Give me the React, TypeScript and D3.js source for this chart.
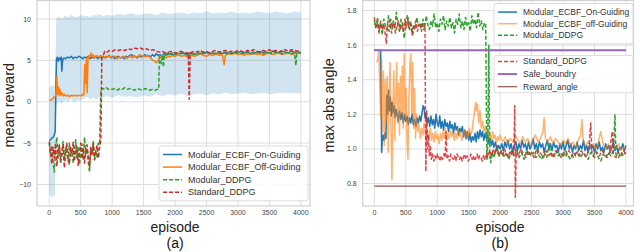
import React from "react";
import * as d3 from "d3";

type Pt = [number, number];

const FONT = "'Liberation Sans', Arial, 'DejaVu Sans', sans-serif";
const C = {
  blue: "#1f77b4",
  orange: "#ff7f0e",
  green: "#2ca02c",
  red: "#d62728",
  purple: "#9467bd",
  brown: "#8c564b",
};

const episodeTicks = [0, 500, 1000, 1500, 2000, 2500, 3000, 3500, 4000];
const rewardTicks = [-10, -5, 0, 5, 10];
const angleTicks = [0.8, 1.0, 1.2, 1.4, 1.6, 1.8];

// ---- (a) mean reward ----
const bandEpisodes = [0, 30, 60, 90, 100, 110, 150, 200, 250, 300, 350, 400, 450, 500, 550, 600, 650, 700, 750, 800, 850, 900, 1000, 1100, 1200, 1300, 1400, 1500, 1600, 1700, 1800, 1900, 2000, 2100, 2200, 2300, 2400, 2500, 2600, 2700, 2800, 2900, 3000, 3100, 3200, 3300, 3400, 3500, 3600, 3700, 3800, 3900, 4000];
const bandUpper = [1.6, 2.0, 1.8, 2.2, 5.0, 10.1, 10.3, 10.0, 10.4, 10.2, 10.5, 10.3, 10.2, 10.5, 10.3, 10.4, 10.2, 10.5, 10.4, 10.6, 10.3, 10.5, 10.4, 10.6, 10.5, 10.7, 10.5, 10.6, 10.7, 10.5, 10.8, 10.6, 10.7, 10.8, 10.6, 10.8, 10.7, 10.9, 10.7, 10.8, 10.7, 10.9, 10.7, 10.8, 10.7, 10.9, 10.8, 10.7, 10.9, 10.8, 10.7, 10.9, 10.8];
const bandLower = [-11.0, -11.6, -11.3, -11.5, -6.0, -0.4, 0.1, -0.2, 0.2, 0.0, 0.3, -0.1, 0.2, 0.1, 0.4, 0.6, 0.3, 0.5, 0.2, 0.6, 0.4, 0.7, 0.5, 0.8, 0.6, 0.7, 0.5, 0.8, 0.6, 0.9, 0.7, 0.9, 0.8, 1.0, 0.7, 0.9, 1.0, 0.8, 1.0, 0.9, 1.1, 0.9, 1.0, 1.1, 0.9, 1.0, 1.1, 0.9, 1.0, 1.1, 1.0, 1.1, 1.0];

const onGuidingReward: Pt[] = [
  [0, -4.7], [20, -4.6], [40, -4.4], [60, -4.3], [80, -4.0], [95, -3.5], [105, 1.5], [115, 5.2], [130, 5.4], [145, 4.9],
  [160, 5.3], [175, 5.1], [190, 5.4], [200, 3.7], [212, 5.0], [230, 5.3], [260, 5.2], [290, 5.4], [320, 5.3], [350, 5.5],
  [380, 5.2], [410, 5.4], [440, 5.3], [470, 5.5], [500, 5.4], [530, 5.2], [560, 5.4], [590, 5.3], [620, 5.5], [650, 5.2],
  [680, 5.4], [710, 5.3], [740, 5.5], [770, 5.2], [800, 5.4], [830, 5.3], [860, 5.5], [890, 5.3], [920, 5.4], [950, 5.6],
  [980, 5.3], [1010, 5.5], [1040, 5.2], [1070, 5.4], [1100, 5.5], [1130, 5.3], [1160, 5.4], [1190, 5.2], [1220, 5.5], [1250, 5.4],
  [1280, 5.6], [1310, 5.7], [1340, 5.4], [1370, 5.5], [1400, 5.3], [1430, 5.6], [1460, 5.4], [1490, 5.5], [1520, 5.7], [1550, 5.5],
  [1580, 5.6], [1610, 5.4], [1640, 5.7], [1670, 5.5], [1700, 5.8], [1730, 5.6], [1760, 5.7], [1790, 5.5], [1820, 5.8], [1850, 5.6],
  [1880, 5.9], [1910, 5.7], [1940, 5.8], [1970, 5.6], [2000, 5.8], [2050, 5.7], [2100, 5.9], [2150, 5.8], [2200, 5.6], [2250, 5.9],
  [2300, 5.8], [2350, 5.7], [2400, 5.9], [2450, 5.8], [2500, 6.0], [2550, 5.8], [2600, 5.9], [2650, 5.7], [2700, 5.9], [2750, 5.8],
  [2800, 6.0], [2850, 5.9], [2900, 5.8], [2950, 6.0], [3000, 5.9], [3050, 6.1], [3100, 5.9], [3150, 6.0], [3200, 5.8], [3250, 6.0],
  [3300, 5.9], [3350, 6.1], [3400, 5.9], [3450, 6.0], [3500, 5.9], [3550, 6.1], [3600, 6.0], [3650, 5.9], [3700, 6.1], [3750, 6.0],
  [3800, 5.9], [3850, 6.1], [3900, 6.0], [3950, 5.9], [4000, 6.0],
];

const offGuidingReward: Pt[] = [
  [0, 0.2], [20, 0.2], [40, 0.3], [60, 0.4], [80, 0.6], [100, 0.7], [110, 1.4], [122, 3.0], [132, 0.9], [145, 1.8],
  [158, 0.7], [170, 1.5], [185, 0.8], [200, 1.1], [220, 0.7], [240, 0.9], [260, 0.7], [290, 0.8], [320, 0.6], [350, 0.8],
  [380, 0.7], [410, 0.8], [440, 0.7], [470, 0.8], [500, 0.7], [530, 0.9], [550, 0.8], [565, 4.5], [578, 2.2], [590, 5.2],
  [603, 1.1], [615, 5.0], [630, 5.6], [650, 5.4], [665, 5.9], [680, 5.5], [700, 5.7], [720, 5.3], [750, 5.6], [780, 5.4],
  [810, 5.6], [840, 5.5], [870, 5.3], [900, 5.5], [930, 5.4], [960, 5.6], [990, 5.3], [1020, 5.4], [1050, 5.5], [1080, 5.2],
  [1110, 5.4], [1140, 5.3], [1170, 5.5], [1200, 5.4], [1230, 5.2], [1260, 5.4], [1290, 5.5], [1320, 5.3], [1350, 5.6], [1380, 5.4],
  [1410, 5.5], [1440, 5.7], [1470, 5.5], [1500, 5.6], [1530, 5.4], [1560, 5.6], [1590, 5.5], [1620, 5.2], [1650, 5.0], [1680, 4.9],
  [1700, 4.7], [1720, 4.9], [1740, 5.2], [1770, 5.4], [1800, 5.6], [1830, 5.5], [1860, 5.3], [1890, 5.5], [1920, 5.4], [1950, 5.6],
  [2000, 5.5], [2050, 5.7], [2100, 5.5], [2150, 5.6], [2200, 5.4], [2250, 5.7], [2300, 5.5], [2350, 5.6], [2400, 5.8], [2450, 5.6],
  [2500, 5.5], [2550, 5.7], [2600, 5.6], [2650, 5.8], [2700, 5.6], [2750, 5.7], [2780, 4.5], [2800, 5.6], [2850, 5.8], [2900, 5.7],
  [2950, 5.9], [3000, 5.7], [3050, 5.8], [3100, 5.6], [3150, 5.8], [3200, 5.7], [3250, 5.9], [3300, 5.7], [3350, 5.8], [3400, 5.6],
  [3450, 5.8], [3500, 5.9], [3550, 5.7], [3600, 5.8], [3650, 5.9], [3700, 5.7], [3750, 5.8], [3800, 5.9], [3850, 5.7], [3900, 5.8],
  [3950, 5.9], [4000, 5.8],
];

const modularReward: Pt[] = [
  [0, -5.0], [20, -6.5], [40, -5.3], [60, -7.2], [80, -8.5], [100, -5.5], [120, -4.3], [140, -6.8], [160, -5.2], [180, -7.5],
  [200, -6.0], [220, -4.8], [240, -7.0], [260, -5.5], [280, -6.3], [300, -7.2], [320, -5.0], [340, -6.6], [360, -5.8], [380, -7.4],
  [400, -6.1], [420, -4.6], [440, -6.9], [460, -5.4], [480, -7.6], [500, -6.2], [520, -5.1], [540, -7.0], [560, -4.3], [580, -6.5],
  [600, -5.7], [620, -7.3], [640, -8.5], [660, -5.6], [680, -6.4], [700, -4.8], [720, -7.0], [740, -5.9], [760, -6.8], [780, -5.0],
  [800, -5.2], [820, 1.5], [850, 1.6], [880, 1.5], [910, 1.7], [940, 1.5], [970, 1.6], [1000, 1.5], [1040, 1.6], [1080, 1.4],
  [1120, 1.6], [1160, 1.5], [1200, 1.7], [1240, 1.5], [1280, 1.6], [1320, 1.5], [1360, 1.4], [1400, 1.6], [1440, 1.5], [1480, 1.4],
  [1520, 1.6], [1560, 1.5], [1600, 1.4], [1640, 1.5], [1680, 1.4], [1720, 1.5], [1740, 1.5], [1750, 5.5], [1765, 5.0], [1780, 4.6],
  [1800, 5.6], [1815, 4.2], [1830, 5.7], [1860, 5.8], [1900, 5.6], [1950, 5.9], [2000, 5.7], [2050, 5.9], [2100, 5.8], [2150, 6.0],
  [2200, 5.8], [2250, 5.9], [2300, 5.7], [2350, 5.9], [2400, 5.8], [2450, 6.0], [2500, 5.8], [2550, 5.9], [2600, 5.7], [2650, 5.9],
  [2700, 6.0], [2750, 5.8], [2800, 5.9], [2850, 5.7], [2900, 5.9], [2950, 5.8], [3000, 6.0], [3050, 5.8], [3100, 5.9], [3150, 6.1],
  [3200, 5.9], [3250, 5.8], [3300, 6.0], [3350, 5.9], [3400, 5.8], [3450, 6.0], [3500, 5.9], [3550, 5.8], [3600, 6.0], [3650, 5.9],
  [3700, 5.8], [3750, 6.0], [3800, 5.9], [3850, 5.8], [3900, 5.9], [3920, 4.4], [3935, 5.8], [3960, 6.0], [4000, 5.9],
];

const standardReward: Pt[] = [
  [0, -4.8], [20, -6.0], [40, -7.5], [60, -5.5], [80, -6.8], [100, -5.0], [120, -7.8], [140, -6.0], [160, -5.3], [180, -7.0],
  [200, -6.5], [220, -5.2], [240, -8.0], [260, -6.2], [280, -5.0], [300, -6.8], [320, -7.6], [340, -5.5], [360, -6.3], [380, -4.9],
  [400, -7.2], [420, -6.0], [440, -5.4], [460, -7.7], [480, -6.1], [500, -5.0], [520, -6.9], [540, -5.6], [560, -7.4], [580, -6.0],
  [600, -5.2], [620, -6.6], [640, -7.9], [660, -5.5], [680, -6.4], [700, -5.0], [720, -7.0], [740, -6.1], [760, -5.3], [780, -6.8],
  [800, -5.6], [820, -4.5], [835, 5.3], [860, 5.6], [880, 6.1], [920, 6.0], [960, 6.2], [1000, 6.1], [1050, 6.3], [1100, 6.2],
  [1150, 6.3], [1200, 6.2], [1250, 6.4], [1300, 6.3], [1350, 6.5], [1400, 6.4], [1450, 6.5], [1500, 6.3], [1550, 6.4], [1600, 6.2],
  [1650, 6.3], [1700, 6.1], [1750, 6.0], [1800, 6.1], [1850, 5.9], [1900, 6.0], [1950, 6.1], [2000, 5.9], [2050, 6.0], [2100, 6.1],
  [2150, 5.9], [2210, 5.9], [2225, 0.3], [2240, 5.9], [2300, 6.1], [2350, 6.0], [2400, 6.2], [2450, 6.0], [2500, 6.1], [2550, 5.9],
  [2600, 6.1], [2650, 6.2], [2700, 6.0], [2750, 6.1], [2800, 6.2], [2850, 6.0], [2900, 6.1], [2950, 6.0], [3000, 6.2], [3050, 6.1],
  [3100, 6.0], [3150, 6.2], [3200, 6.1], [3250, 6.3], [3300, 6.1], [3350, 6.0], [3400, 6.2], [3450, 6.1], [3500, 6.3], [3550, 6.1],
  [3600, 6.2], [3650, 6.0], [3700, 6.2], [3750, 6.3], [3800, 6.1], [3850, 6.3], [3900, 6.2], [3950, 6.1], [4000, 6.2],
];

// ---- (b) max abs angle ----
const safeBoundary = 1.57;
const rewardAngle = 0.785;

const onGuidingAngle: Pt[] = [
  [0, 1.57], [50, 1.57], [100, 1.57], [108, 1.3], [116, 0.98], [125, 1.04], [140, 1.08], [155, 1.05], [170, 1.09], [185, 1.06],
  [198, 1.31], [212, 1.2], [226, 1.34], [240, 1.22], [255, 1.3], [270, 1.19], [285, 1.27], [300, 1.21], [315, 1.25], [330, 1.18],
  [345, 1.23], [360, 1.2], [380, 1.16], [400, 1.22], [420, 1.17], [440, 1.21], [460, 1.15], [480, 1.2], [500, 1.16], [520, 1.19],
  [540, 1.14], [560, 1.18], [580, 1.15], [600, 1.2], [620, 1.14], [640, 1.17], [660, 1.13], [680, 1.18], [700, 1.15], [720, 1.19],
  [740, 1.16], [760, 1.21], [775, 1.25], [790, 1.24], [805, 1.18], [820, 1.2], [840, 1.15], [860, 1.18], [880, 1.13], [900, 1.19],
  [920, 1.14], [940, 1.17], [960, 1.12], [980, 1.2], [1000, 1.15], [1020, 1.13], [1040, 1.19], [1060, 1.12], [1080, 1.16], [1100, 1.11],
  [1120, 1.17], [1140, 1.13], [1160, 1.15], [1180, 1.1], [1200, 1.16], [1220, 1.12], [1240, 1.14], [1260, 1.09], [1280, 1.15], [1300, 1.11],
  [1320, 1.13], [1340, 1.08], [1360, 1.12], [1380, 1.1], [1400, 1.13], [1420, 1.07], [1440, 1.11], [1460, 1.06], [1480, 1.1], [1500, 1.05],
  [1520, 1.09], [1540, 1.04], [1560, 1.07], [1580, 1.05], [1600, 1.09], [1620, 1.04], [1640, 1.1], [1660, 1.06], [1680, 1.11], [1700, 1.07],
  [1720, 1.1], [1740, 1.05], [1760, 1.09], [1780, 1.06], [1800, 1.08], [1820, 1.03], [1840, 1.06], [1860, 1.02], [1880, 1.05], [1900, 1.01],
  [1925, 1.04], [1950, 0.99], [1975, 1.02], [2000, 1.0], [2025, 1.03], [2050, 0.99], [2075, 1.04], [2100, 1.01], [2125, 1.05], [2150, 1.0],
  [2175, 1.03], [2200, 0.98], [2225, 1.02], [2250, 1.04], [2275, 0.99], [2300, 1.03], [2325, 1.0], [2350, 1.05], [2375, 1.01], [2400, 1.03],
  [2425, 0.99], [2450, 1.04], [2475, 1.0], [2500, 1.02], [2525, 1.06], [2550, 1.0], [2575, 1.03], [2600, 0.99], [2625, 1.04], [2650, 1.01],
  [2675, 1.03], [2700, 0.98], [2725, 1.02], [2750, 1.05], [2775, 1.0], [2800, 1.03], [2825, 0.99], [2850, 1.04], [2875, 1.01], [2900, 1.02],
  [2925, 0.98], [2950, 1.03], [2975, 1.0], [3000, 1.04], [3025, 0.99], [3050, 1.02], [3075, 1.05], [3100, 1.0], [3125, 1.03], [3150, 0.98],
  [3175, 1.02], [3200, 1.0], [3225, 1.04], [3250, 0.99], [3275, 1.02], [3300, 1.0], [3325, 1.05], [3350, 0.99], [3375, 1.02], [3400, 0.98],
  [3425, 1.03], [3450, 1.0], [3475, 1.02], [3500, 0.98], [3525, 1.03], [3550, 1.0], [3575, 1.04], [3600, 0.99], [3625, 1.01], [3650, 0.98],
  [3675, 1.03], [3700, 1.0], [3725, 1.02], [3750, 0.98], [3775, 1.01], [3800, 1.04], [3825, 0.99], [3850, 1.02], [3875, 0.98], [3900, 1.01],
  [3925, 1.0], [3950, 1.03], [3975, 0.99], [4000, 1.02],
];

const offGuidingAngle: Pt[] = [
  [40, 1.5], [55, 1.52], [70, 1.57], [85, 1.38], [100, 1.18], [115, 1.52], [130, 1.1], [145, 1.45], [160, 1.02], [175, 1.4],
  [190, 1.15], [205, 1.42], [220, 0.98], [235, 1.3], [250, 1.5], [265, 1.1], [280, 0.82], [295, 1.25], [310, 1.45], [325, 1.05],
  [340, 1.3], [355, 1.5], [370, 1.15], [385, 1.38], [400, 1.08], [415, 1.42], [430, 1.2], [445, 1.48], [460, 1.12], [475, 1.55],
  [490, 1.18], [505, 1.35], [520, 1.05], [535, 0.94], [550, 1.3], [565, 1.48], [580, 1.55], [595, 1.2], [610, 1.5], [625, 1.12],
  [640, 1.35], [655, 1.06], [670, 1.2], [690, 1.1], [710, 1.14], [730, 1.06], [750, 1.12], [770, 1.08], [790, 1.15], [810, 1.1],
  [830, 1.04], [850, 1.1], [870, 1.06], [890, 1.12], [910, 1.05], [930, 1.09], [950, 1.04], [970, 1.1], [990, 1.06], [1010, 1.08],
  [1030, 1.03], [1050, 1.09], [1070, 1.05], [1090, 1.1], [1110, 1.06], [1130, 1.12], [1150, 1.05], [1170, 1.09], [1190, 1.06], [1210, 1.11],
  [1230, 1.07], [1250, 1.1], [1270, 1.05], [1290, 1.09], [1310, 1.06], [1330, 1.12], [1350, 1.07], [1370, 1.1], [1390, 1.05], [1410, 1.08],
  [1430, 1.11], [1450, 1.06], [1470, 1.1], [1490, 1.07], [1510, 1.12], [1530, 1.08], [1550, 1.1], [1570, 1.15], [1590, 1.21], [1610, 1.27],
  [1625, 1.22], [1640, 1.26], [1660, 1.15], [1680, 1.22], [1700, 1.12], [1720, 1.16], [1740, 1.1], [1760, 1.13], [1780, 1.08], [1800, 1.11],
  [1820, 1.06], [1840, 1.09], [1860, 1.05], [1880, 1.1], [1900, 1.06], [1920, 1.08], [1940, 1.04], [1960, 1.07], [1980, 1.05], [2000, 1.08],
  [2040, 1.04], [2080, 1.07], [2120, 1.03], [2160, 1.06], [2200, 1.04], [2240, 1.08], [2280, 1.05], [2320, 1.03], [2360, 1.07], [2400, 1.04],
  [2440, 1.06], [2480, 1.02], [2520, 1.05], [2560, 1.08], [2600, 1.04], [2640, 1.06], [2680, 1.1], [2700, 1.18], [2720, 1.06], [2760, 1.04],
  [2800, 1.07], [2840, 1.03], [2880, 1.06], [2920, 1.04], [2960, 1.02], [3000, 1.05], [3040, 1.03], [3080, 1.06], [3120, 1.02], [3160, 1.04],
  [3200, 1.01], [3240, 1.05], [3280, 1.08], [3300, 1.17], [3320, 1.05], [3360, 1.02], [3400, 1.04], [3440, 1.01], [3480, 1.03], [3520, 1.0],
  [3560, 1.04], [3600, 1.1], [3640, 1.02], [3680, 1.0], [3720, 1.03], [3760, 0.99], [3800, 1.02], [3840, 1.0], [3880, 1.03], [3920, 0.99],
  [3960, 1.01], [4000, 1.0],
];

const modularAngle: Pt[] = [
  [0, 1.74], [25, 1.7], [50, 1.76], [75, 1.68], [100, 1.73], [125, 1.66], [150, 1.75], [175, 1.71], [200, 1.69], [225, 1.77],
  [250, 1.72], [275, 1.67], [300, 1.74], [325, 1.7], [350, 1.79], [375, 1.71], [400, 1.68], [425, 1.75], [450, 1.72], [475, 1.64],
  [500, 1.73], [525, 1.77], [550, 1.7], [575, 1.74], [600, 1.66], [625, 1.72], [650, 1.69], [675, 1.76], [700, 1.71], [725, 1.73],
  [750, 1.68], [775, 1.75], [800, 1.7], [825, 1.77], [850, 1.72], [875, 1.69], [900, 1.74], [925, 1.71], [950, 1.78], [975, 1.7],
  [1000, 1.73], [1025, 1.68], [1050, 1.75], [1075, 1.72], [1100, 1.77], [1125, 1.69], [1150, 1.74], [1175, 1.71], [1200, 1.76], [1225, 1.7],
  [1250, 1.73], [1275, 1.67], [1300, 1.75], [1325, 1.72], [1350, 1.78], [1375, 1.7], [1400, 1.74], [1425, 1.69], [1450, 1.76], [1475, 1.71],
  [1500, 1.73], [1525, 1.68], [1550, 1.77], [1575, 1.72], [1600, 1.75], [1625, 1.7], [1650, 1.79], [1675, 1.71], [1700, 1.74], [1725, 1.69],
  [1750, 1.73], [1770, 1.72], [1790, 0.94], [1805, 1.05], [1820, 1.6], [1835, 0.96], [1850, 0.92], [1875, 0.98], [1900, 0.95], [1940, 1.0],
  [1980, 0.96], [2020, 0.99], [2060, 0.95], [2100, 0.98], [2140, 0.94], [2180, 0.99], [2220, 0.96], [2260, 1.0], [2300, 0.95], [2340, 0.98],
  [2380, 0.94], [2420, 0.99], [2460, 0.96], [2500, 0.98], [2540, 0.95], [2580, 1.0], [2620, 0.96], [2660, 0.94], [2700, 0.98], [2740, 0.95],
  [2780, 1.03], [2800, 0.97], [2840, 0.95], [2880, 0.99], [2920, 0.96], [2960, 0.98], [3000, 0.95], [3040, 0.99], [3080, 0.96], [3120, 0.94],
  [3160, 0.98], [3200, 0.96], [3240, 0.99], [3280, 0.95], [3320, 0.98], [3360, 0.96], [3400, 0.94], [3440, 0.98], [3480, 0.96], [3520, 0.99],
  [3560, 0.95], [3600, 0.93], [3640, 0.97], [3680, 0.95], [3720, 0.98], [3760, 0.96], [3800, 0.99], [3825, 1.2], [3840, 0.97], [3880, 0.95],
  [3920, 0.98], [3960, 0.96], [4000, 0.98],
];

const standardAngle: Pt[] = [
  [0, 1.76], [25, 1.7], [50, 1.73], [75, 1.67], [100, 1.74], [125, 1.69], [150, 1.72], [175, 1.66], [190, 1.61], [210, 1.72],
  [235, 1.68], [260, 1.75], [285, 1.7], [310, 1.73], [335, 1.67], [360, 1.71], [385, 1.74], [410, 1.69], [435, 1.72], [460, 1.68],
  [485, 1.75], [510, 1.7], [535, 1.76], [560, 1.69], [585, 1.72], [610, 1.66], [635, 1.71], [660, 1.74], [685, 1.68], [710, 1.72],
  [735, 1.7], [760, 1.73], [785, 1.69], [805, 1.71], [818, 0.87], [832, 1.22], [845, 1.0], [860, 1.08], [875, 0.96], [890, 1.02],
  [905, 0.94], [925, 0.97], [945, 0.93], [965, 0.96], [985, 0.94], [1005, 0.97], [1025, 0.95], [1045, 0.93], [1065, 0.96], [1085, 0.94],
  [1105, 0.97], [1125, 0.95], [1140, 1.1], [1155, 0.94], [1175, 0.96], [1195, 0.93], [1215, 0.97], [1235, 0.95], [1255, 0.94], [1275, 0.96],
  [1295, 0.93], [1315, 0.97], [1335, 0.95], [1355, 0.94], [1375, 0.96], [1395, 0.93], [1415, 0.95], [1435, 0.97], [1455, 0.94], [1475, 0.96],
  [1495, 0.93], [1515, 0.95], [1535, 0.97], [1555, 0.94], [1575, 0.96], [1595, 0.93], [1615, 0.95], [1635, 0.97], [1655, 0.94], [1675, 0.96],
  [1695, 0.95], [1715, 0.93], [1735, 0.96], [1755, 0.94], [1775, 0.97], [1800, 0.95], [1830, 0.99], [1860, 0.96], [1890, 1.0], [1920, 0.97],
  [1950, 1.02], [1980, 0.96], [2010, 0.99], [2040, 0.96], [2070, 1.0], [2100, 0.97], [2130, 0.95], [2160, 0.99], [2190, 0.96], [2220, 1.0],
  [2232, 1.25], [2242, 0.72], [2255, 0.98], [2290, 0.96], [2330, 1.0], [2370, 0.97], [2410, 0.95], [2450, 0.99], [2490, 0.96], [2530, 0.98],
  [2570, 0.95], [2610, 0.99], [2650, 0.97], [2690, 0.95], [2730, 0.99], [2770, 0.96], [2810, 0.98], [2850, 0.95], [2890, 0.99], [2930, 0.97],
  [2970, 0.95], [3010, 0.98], [3050, 0.96], [3090, 0.99], [3130, 0.97], [3170, 0.95], [3210, 0.98], [3250, 0.96], [3290, 0.99], [3330, 0.97],
  [3370, 0.95], [3410, 1.0], [3440, 1.15], [3460, 0.97], [3500, 0.95], [3540, 0.98], [3580, 0.96], [3620, 0.99], [3660, 0.97], [3700, 0.95],
  [3740, 0.98], [3780, 1.1], [3800, 0.97], [3840, 0.95], [3880, 0.98], [3920, 0.96], [3960, 0.99], [4000, 0.97],
];

// ---- layout ----
const W = 640;
const H = 252;
const PLOT_TOP = 0.5;
const PLOT_BOTTOM = 206;

interface Style {
  color: string;
  width: number;
  dash?: string;
  opacity?: number;
}

interface LegendItem extends Style {
  label: string;
}

const GRID = "#dedede";
const SPINE = "#d0d0d0";
const TICK_TEXT = "#444";

const Legend: React.FC<{ x: number; y: number; w: number; items: LegendItem[]; step: number; fs: number; pad: number }> = ({ x, y, w, items, step, fs, pad }) => {
  const h = pad * 2 + step * (items.length - 1);
  return (
    <g>
      <rect x={x} y={y} width={w} height={h} rx={2} fill="white" fillOpacity={0.85} stroke="#d4d4d4" strokeWidth={0.8} />
      {items.map((it, i) => {
        const cy = y + pad + i * step;
        return (
          <g key={it.label}>
            <line x1={x + 4} x2={x + 23} y1={cy} y2={cy} stroke={it.color} strokeWidth={it.width} strokeDasharray={it.dash} strokeOpacity={it.opacity ?? 1} />
            <text x={x + 29} y={cy + fs * 0.35} fontSize={fs} fill="#333" fontFamily={FONT}>
              {it.label}
            </text>
          </g>
        );
      })}
    </g>
  );
};

const Axes: React.FC<{
  x: d3.ScaleLinear<number, number>;
  y: d3.ScaleLinear<number, number>;
  yTicks: number[];
  yFmt: (v: number) => string;
  yLabel: string;
  yLabelX: number;
  tag: string;
}> = ({ x, y, yTicks, yFmt, yLabel, yLabelX, tag }) => {
  const [x0, x1] = x.range();
  const cx = x(2000);
  return (
    <g fontFamily={FONT}>
      {episodeTicks.map((t) => (
        <line key={"gx" + t} x1={x(t)} x2={x(t)} y1={PLOT_TOP} y2={PLOT_BOTTOM} stroke={GRID} strokeWidth={1} />
      ))}
      {yTicks.map((t) => (
        <line key={"gy" + t} x1={x0} x2={x1} y1={y(t)} y2={y(t)} stroke={GRID} strokeWidth={1} />
      ))}
      <rect x={x0} y={PLOT_TOP} width={x1 - x0} height={PLOT_BOTTOM - PLOT_TOP} fill="none" stroke={SPINE} strokeWidth={1.2} />
      {episodeTicks.map((t) => (
        <text key={"tx" + t} x={x(t)} y={214.5} fontSize={7} fill={TICK_TEXT} textAnchor="middle">
          {t}
        </text>
      ))}
      {yTicks.map((t) => (
        <text key={"ty" + t} x={x0 - 6} y={y(t) + 2.5} fontSize={7} fill={TICK_TEXT} textAnchor="end">
          {yFmt(t)}
        </text>
      ))}
      <text x={cx} y={231.5} fontSize={14} fill="#222" textAnchor="middle">
        episode
      </text>
      <text x={cx} y={247.5} fontSize={14} fill="#111" textAnchor="middle">
        {tag}
      </text>
      <text transform={`translate(${yLabelX},${(PLOT_TOP + PLOT_BOTTOM) / 2 + 2}) rotate(-90)`} fontSize={14.5} fill="#222" textAnchor="middle">
        {yLabel}
      </text>
    </g>
  );
};

const Series: React.FC<{ data: Pt[]; x: d3.ScaleLinear<number, number>; y: d3.ScaleLinear<number, number>; s: Style }> = ({ data, x, y, s }) => {
  const line = d3
    .line<Pt>()
    .x((d) => x(d[0]))
    .y((d) => y(d[1]));
  return (
    <path d={line(data) ?? ""} fill="none" stroke={s.color} strokeWidth={s.width} strokeDasharray={s.dash} strokeOpacity={s.opacity ?? 1} strokeLinejoin="round" />
  );
};

export default function App() {
  const xL = d3.scaleLinear().domain([-195, 4145]).range([37, 310]);
  const yL = d3.scaleLinear().domain([-12.6, 12.3]).range([PLOT_BOTTOM, 0]);
  const xR = d3.scaleLinear().domain([-185, 4120]).range([362.7, 633.5]);
  const yR = d3.scaleLinear().domain([0.67, 1.861]).range([PLOT_BOTTOM, 0]);

  const band = d3
    .area<number>()
    .x((d) => xL(d))
    .y0((_, i) => yL(bandLower[i]))
    .y1((_, i) => yL(bandUpper[i]));

  const sOn: Style = { color: C.blue, width: 1.5 };
  const sOff: Style = { color: C.orange, width: 1.5 };
  const sMod: Style = { color: C.green, width: 1.5, dash: "4,2" };
  const sStd: Style = { color: C.red, width: 1.5, dash: "4,2" };
  const sOffR: Style = { color: C.orange, width: 1.5, opacity: 0.6 };
  const sStdR: Style = { color: C.red, width: 1.5, dash: "4,2", opacity: 0.85 };
  const sSafe: Style = { color: C.purple, width: 2 };
  const sReward: Style = { color: C.brown, width: 1.2 };

  return (
    <svg width={W} height={H} viewBox={`0 0 ${W} ${H}`} style={{ position: "absolute", left: 0, top: 0, background: "white" }}>
      {/* (a) */}
      <Axes x={xL} y={yL} yTicks={rewardTicks} yFmt={d3.format("d")} yLabel="mean reward" yLabelX={13.5} tag="(a)" />
      <path d={band(bandEpisodes) ?? ""} fill={C.blue} fillOpacity={0.2} />
      <Series data={onGuidingReward} x={xL} y={yL} s={sOn} />
      <Series data={offGuidingReward} x={xL} y={yL} s={sOff} />
      <Series data={modularReward} x={xL} y={yL} s={sMod} />
      <Series data={standardReward} x={xL} y={yL} s={sStd} />
      <Legend
        x={159}
        y={146}
        w={149}
        step={12.6}
        pad={8.5}
        fs={9}
        items={[
          { label: "Modular_ECBF_On-Guiding", ...sOn },
          { label: "Modular_ECBF_Off-Guiding", ...sOff },
          { label: "Modular_DDPG", ...sMod },
          { label: "Standard_DDPG", ...sStd },
        ]}
      />

      {/* (b) */}
      <Axes x={xR} y={yR} yTicks={angleTicks} yFmt={d3.format(".1f")} yLabel="max abs angle" yLabelX={333.5} tag="(b)" />
      <Series data={onGuidingAngle} x={xR} y={yR} s={sOn} />
      <Series data={offGuidingAngle} x={xR} y={yR} s={sOffR} />
      <Series data={modularAngle} x={xR} y={yR} s={sMod} />
      <Series data={standardAngle} x={xR} y={yR} s={sStdR} />
      <Legend
        x={494}
        y={3.5}
        w={139}
        step={11.6}
        pad={8.6}
        fs={8.5}
        items={[
          { label: "Modular_ECBF_On-Guiding", ...sOn },
          { label: "Modular_ECBF_off-Guiding", ...sOffR },
          { label: "Modular_DDPG", ...sMod },
        ]}
      />
      <line x1={xR(0)} x2={xR(4000)} y1={yR(safeBoundary)} y2={yR(safeBoundary)} stroke={sSafe.color} strokeWidth={sSafe.width} />
      <line x1={xR(0)} x2={xR(4000)} y1={yR(rewardAngle)} y2={yR(rewardAngle)} stroke={sReward.color} strokeWidth={sReward.width} />
      <Legend
        x={494}
        y={55.5}
        w={139}
        step={12.6}
        pad={6}
        fs={8.5}
        items={[
          { label: "Standard_DDPG", ...sStdR },
          { label: "Safe_boundry", ...sSafe },
          { label: "Reward_angle", ...sReward },
        ]}
      />
    </svg>
  );
}
